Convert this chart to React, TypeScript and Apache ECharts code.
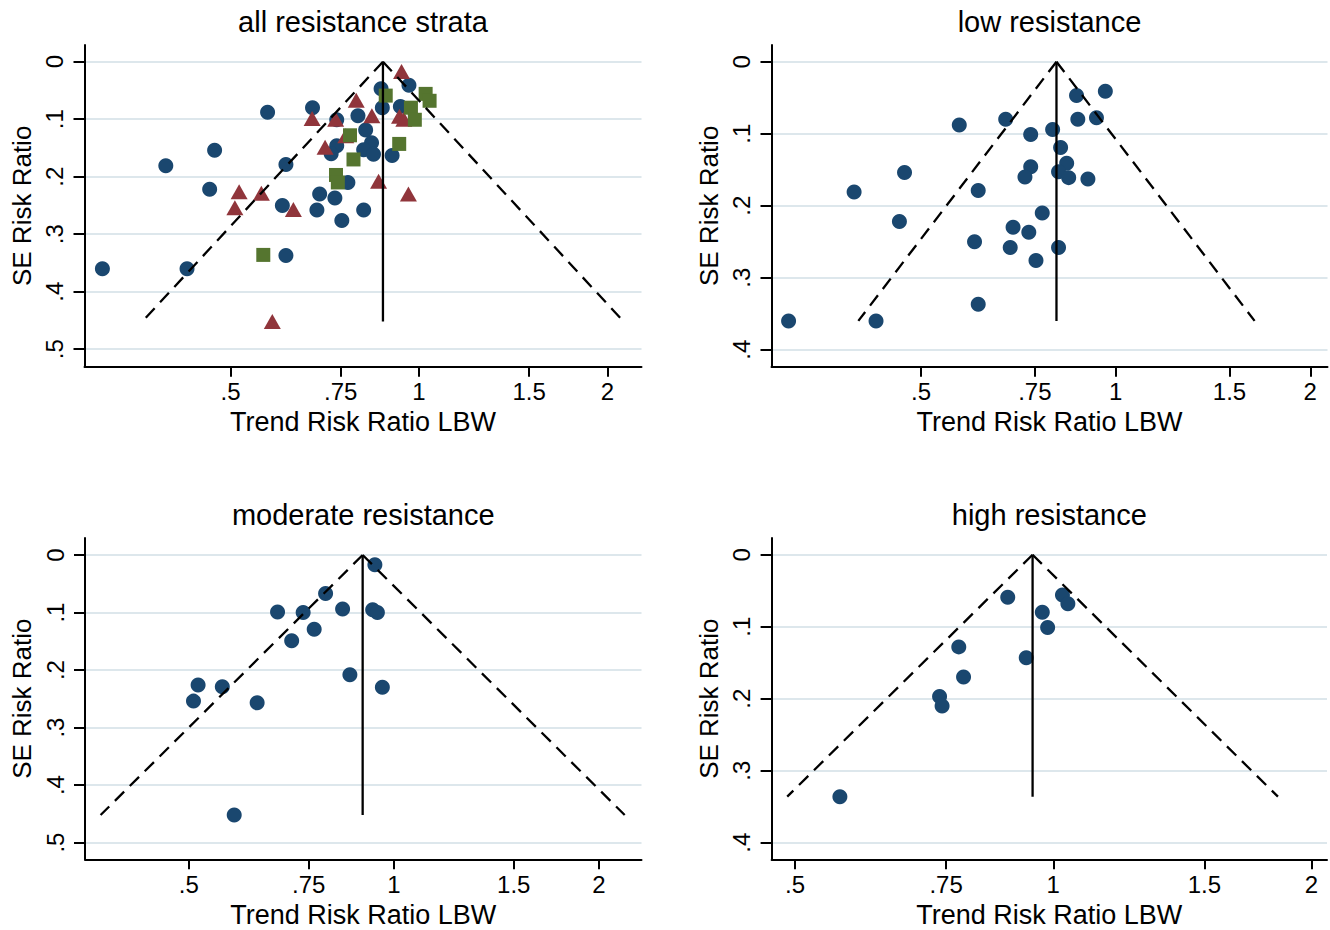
import React, { useEffect, useRef } from 'react';
import * as echarts from 'echarts';

// ---------- data (risk ratio, standard error) ----------
const lowRR = [0.312, 0.426, 0.394, 0.4715, 0.463, 0.573, 0.613, 0.605, 0.613, 0.676, 0.694, 0.687, 0.734, 0.753, 0.816, 0.770, 0.739, 0.799, 0.822, 0.739, 0.724, 0.840, 0.816, 0.846, 0.906, 0.870, 0.874, 0.934, 0.964];
const lowSE = [0.360, 0.360, 0.181, 0.154, 0.222, 0.088, 0.179, 0.250, 0.337, 0.080, 0.230, 0.258, 0.237, 0.276, 0.258, 0.210, 0.101, 0.094, 0.119, 0.146, 0.160, 0.141, 0.153, 0.161, 0.163, 0.047, 0.080, 0.078, 0.041];

const modRR = [0.938, 0.794, 0.675, 0.736, 0.841, 0.931, 0.946, 0.764, 0.708, 0.862, 0.962, 0.516, 0.560, 0.508, 0.630, 0.583];
const modSE = [0.017, 0.067, 0.099, 0.100, 0.094, 0.095, 0.100, 0.129, 0.149, 0.208, 0.230, 0.226, 0.229, 0.254, 0.257, 0.452];

const highRR = [0.885, 1.025, 1.040, 0.971, 0.985, 0.776, 0.930, 0.786, 0.737, 0.742, 0.564];
const highSE = [0.059, 0.056, 0.068, 0.080, 0.101, 0.128, 0.143, 0.170, 0.197, 0.210, 0.336];

// pooled estimates: all strata, low, moderate, high
const pooledRR = [0.876, 0.81, 0.90, 0.946];

const panelTitles = ['all resistance strata', 'low resistance', 'moderate resistance', 'high resistance'];
const xTickValues = [0.5, 0.75, 1, 1.5, 2];
const yTicksWide = [0, 0.1, 0.2, 0.3, 0.4, 0.5];
const yTicksNarrow = [0, 0.1, 0.2, 0.3, 0.4];
const xAxisTitle = 'Trend Risk Ratio LBW';
const yAxisTitle = 'SE Risk Ratio';

// ---------- styling / layout ----------
const FONT = '"Liberation Sans", Arial, Helvetica, sans-serif';
const NAVY = '#1a476f';
const MAROON = '#90353b';
const GREEN = '#55752f';
const GRIDC = '#dde7ec';

const layouts = [
  { left: 84.5, top: 45, width: 557, height: 321.7, xMin: -1.2306, xMax: 0.819, yMin: -0.029, yMax: 0.5304, yTicks: yTicksWide },
  { left: 771.5, top: 45, width: 556, height: 321.7, xMin: -1.2256, xMax: 0.7545, yMin: -0.0232, yMax: 0.4236, yTicks: yTicksNarrow },
  { left: 85, top: 538, width: 556.5, height: 321.3, xMin: -1.044, xMax: 0.8373, yMin: -0.0296, yMax: 0.529, yTicks: yTicksWide },
  { left: 771.6, top: 538, width: 555.4, height: 321.3, xMin: -0.756, xMax: 0.7347, yMin: -0.0232, yMax: 0.423, yTicks: yTicksNarrow },
];

function pairs(rr: number[], se: number[]) {
  return rr.map((r, i) => [Math.log(r), se[i]]);
}

function fmtX(v: number) {
  const r = Math.round(Math.exp(v) * 100) / 100;
  return String(r).replace(/^0\./, '.');
}
function fmtY(v: number) {
  const r = Math.round(v * 10) / 10;
  return String(r).replace(/^0\./, '.');
}

function buildOption() {
  const strata = [
    { rr: lowRR, se: lowSE, symbol: 'circle', color: NAVY, size: 15 },
    { rr: modRR, se: modSE, symbol: 'triangle', color: MAROON, size: [17, 15] },
    { rr: highRR, se: highSE, symbol: 'rect', color: GREEN, size: 14 },
  ];
  const panels = [
    { sets: [0, 1, 2], styled: true },
    { sets: [0], styled: false },
    { sets: [1], styled: false },
    { sets: [2], styled: false },
  ];

  const grid: any[] = [];
  const xAxis: any[] = [];
  const yAxis: any[] = [];
  const title: any[] = [];
  const series: any[] = [];

  panels.forEach((p, i) => {
    const L = layouts[i];
    grid.push({ left: L.left, top: L.top, width: L.width, height: L.height, containLabel: false });
    title.push({
      text: panelTitles[i],
      left: L.left + L.width / 2,
      top: L.top - 38,
      textAlign: 'center',
      padding: 0,
      textStyle: { fontSize: 29, fontWeight: 'normal', color: '#000', fontFamily: FONT },
    });
    const xt = xTickValues.map((v) => Math.log(v));
    xAxis.push({
      gridIndex: i,
      type: 'value',
      min: L.xMin,
      max: L.xMax,
      axisLine: { show: true, onZero: false, lineStyle: { color: '#000', width: 2 } },
      axisTick: { show: true, customValues: xt, length: 10, lineStyle: { color: '#000', width: 2 } },
      axisLabel: { customValues: xt, formatter: fmtX, fontSize: 24, color: '#000', margin: 13, fontFamily: FONT },
      splitLine: { show: false },
      name: xAxisTitle,
      nameLocation: 'middle',
      nameGap: 42,
      nameTextStyle: { fontSize: 27, color: '#000', fontFamily: FONT },
    });
    yAxis.push({
      gridIndex: i,
      type: 'value',
      inverse: true,
      min: L.yMin,
      max: L.yMax,
      axisLine: { show: true, onZero: false, lineStyle: { color: '#000', width: 2 } },
      axisTick: { show: true, customValues: L.yTicks, length: 11, lineStyle: { color: '#000', width: 2 } },
      axisLabel: { customValues: L.yTicks, formatter: fmtY, rotate: 90, fontSize: 24, color: '#000', margin: 18, fontFamily: FONT },
      splitLine: { show: true, lineStyle: { color: GRIDC, width: 2 } },
      name: yAxisTitle,
      nameLocation: 'middle',
      nameRotate: 90,
      nameGap: 50,
      nameTextStyle: { fontSize: 26, color: '#000', fontFamily: FONT },
    });

    let seMax = 0;
    p.sets.forEach((si) => {
      const s = strata[si];
      seMax = Math.max(seMax, ...s.se);
      series.push({
        type: 'scatter',
        xAxisIndex: i,
        yAxisIndex: i,
        data: pairs(s.rr, s.se),
        symbol: p.styled ? s.symbol : 'circle',
        symbolSize: p.styled ? s.size : 15,
        itemStyle: { color: p.styled ? s.color : NAVY, opacity: 1 },
        z: 2,
        silent: true,
      });
    });

    const c = Math.log(pooledRR[i]);
    const half = 1.96 * seMax;
    const dash = { color: '#000', width: 2.3, type: [13, 8] };
    series.push({
      type: 'line', xAxisIndex: i, yAxisIndex: i, symbol: 'none', silent: true, z: 5,
      data: [[c, 0], [c - half, seMax]], lineStyle: dash,
    });
    series.push({
      type: 'line', xAxisIndex: i, yAxisIndex: i, symbol: 'none', silent: true, z: 5,
      data: [[c, 0], [c + half, seMax]], lineStyle: dash,
    });
    series.push({
      type: 'line', xAxisIndex: i, yAxisIndex: i, symbol: 'none', silent: true, z: 5,
      data: [[c, 0], [c, seMax]], lineStyle: { color: '#000', width: 2.3 },
    });
  });

  return {
    animation: false,
    backgroundColor: '#fff',
    textStyle: { fontFamily: FONT },
    title,
    grid,
    xAxis,
    yAxis,
    series,
  };
}

export default function App() {
  const ref = useRef<HTMLDivElement>(null);
  useEffect(() => {
    if (!ref.current) return;
    const chart = echarts.init(ref.current, undefined, { renderer: 'svg' });
    chart.setOption(buildOption() as any);
    return () => chart.dispose();
  }, []);
  return (
    <div
      ref={ref}
      style={{ position: 'absolute', left: 0, top: 0, width: 1330, height: 930, background: '#fff' }}
    />
  );
}
